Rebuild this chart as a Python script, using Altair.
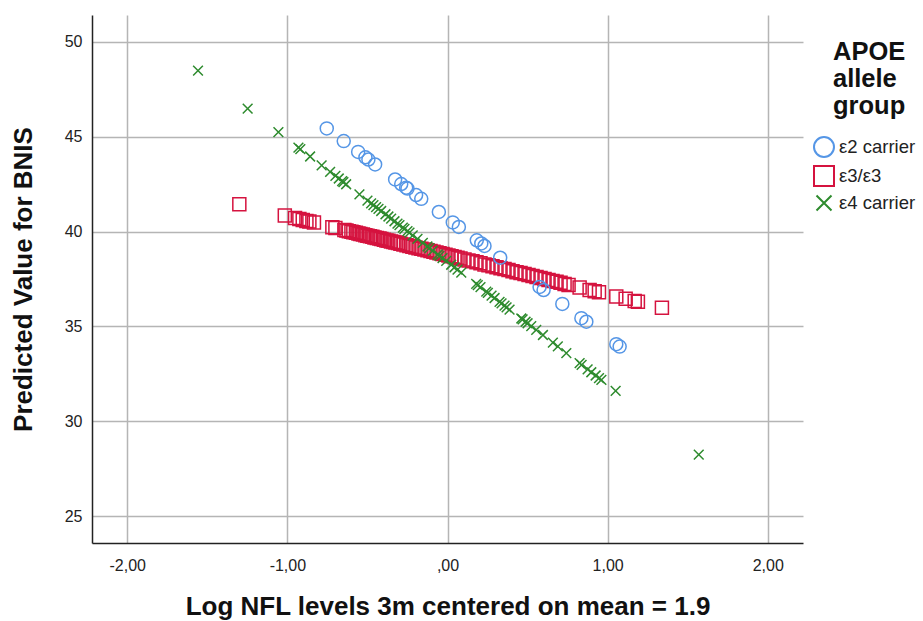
import altair as alt
import pandas as pd

# APOE groups, in legend order
groups = ["ε2 carrier", "ε3/ε3", "ε4 carrier"]
group_colors = ["#5596e6", "#d5133f", "#2e8b2e"]
x_mark = "M-0.75,-0.75L0.75,0.75M-0.75,0.75L0.75,-0.75"
group_shapes = ["circle", "square", x_mark]

# ε2 carriers: centered log NFL and predicted BNIS
e2_x = [-0.754, -0.648, -0.558, -0.5125, -0.494, -0.452, -0.327, -0.289, -0.258,
        -0.25, -0.196, -0.164, -0.054, 0.033, 0.071, 0.183, 0.211, 0.231, 0.329,
        0.575, 0.60, 0.717, 0.836, 0.867, 1.054, 1.075]
e2_y = [45.43, 44.76, 44.19, 43.91, 43.79, 43.53, 42.74, 42.50, 42.31,
        42.26, 41.92, 41.72, 41.03, 40.48, 40.24, 39.54, 39.37, 39.24, 38.62,
        37.08, 36.92, 36.19, 35.44, 35.25, 34.07, 33.94]

# ε3/ε3
e3_x = [-1.300, -1.016, -0.952, -0.925, -0.904, -0.881, -0.8625, -0.834, -0.719, -0.700,
        -0.644, -0.631, -0.616, -0.600, -0.588, -0.572, -0.556, -0.544, -0.528, -0.513,
        -0.500, -0.484, -0.469, -0.456, -0.441, -0.425, -0.413, -0.397, -0.381, -0.369,
        -0.353, -0.338, -0.325, -0.309, -0.294, -0.275, -0.256, -0.238, -0.219, -0.200,
        -0.181, -0.163, -0.144, -0.125, -0.106, -0.0875, -0.069, -0.050, -0.031, -0.0125,
        0.006, 0.025, 0.044, 0.0625, 0.081, 0.106, 0.131, 0.156, 0.181, 0.206,
        0.231, 0.256, 0.281, 0.306, 0.331, 0.356, 0.381, 0.406, 0.431, 0.456,
        0.481, 0.506, 0.531, 0.556, 0.581, 0.606, 0.631, 0.656, 0.681, 0.706,
        0.731, 0.756, 0.825, 0.8875, 0.919, 0.946, 1.054, 1.1125, 1.169, 1.189, 1.339]
e3_y = [41.43, 40.84, 40.71, 40.66, 40.61, 40.56, 40.53, 40.47, 40.23, 40.19,
        40.08, 40.05, 40.02, 39.99, 39.96, 39.93, 39.90, 39.87, 39.84, 39.81,
        39.78, 39.75, 39.72, 39.69, 39.66, 39.63, 39.60, 39.57, 39.53, 39.51,
        39.48, 39.45, 39.42, 39.39, 39.36, 39.32, 39.28, 39.24, 39.20, 39.16,
        39.12, 39.09, 39.05, 39.01, 38.97, 38.93, 38.89, 38.85, 38.81, 38.78,
        38.74, 38.70, 38.66, 38.62, 38.58, 38.53, 38.48, 38.43, 38.38, 38.33,
        38.27, 38.22, 38.17, 38.12, 38.07, 38.02, 37.97, 37.91, 37.86, 37.81,
        37.76, 37.71, 37.66, 37.60, 37.55, 37.50, 37.45, 37.40, 37.35, 37.30,
        37.24, 37.19, 37.05, 36.92, 36.86, 36.80, 36.58, 36.46, 36.34, 36.30, 35.99]

# ε4 carriers
e4_x = [-1.558, -1.248, -1.056, -0.931, -0.919, -0.858, -0.786, -0.733, -0.700, -0.679,
        -0.658, -0.650, -0.633, -0.550, -0.500, -0.477, -0.4625, -0.446, -0.431, -0.414,
        -0.3875, -0.369, -0.352, -0.331, -0.3125, -0.300, -0.279, -0.269, -0.250, -0.2375,
        -0.217, -0.1875, -0.154, -0.125, -0.1125, -0.092, -0.061, -0.050, -0.031, -0.008,
        0.023, 0.044, 0.0625, 0.086, 0.179, 0.189, 0.206, 0.242, 0.252, 0.275,
        0.294, 0.325, 0.3375, 0.356, 0.369, 0.3875, 0.461, 0.469, 0.4875, 0.500,
        0.523, 0.554, 0.596, 0.658, 0.689, 0.742, 0.825, 0.8375, 0.875, 0.898,
        0.925, 0.946, 0.961, 1.050, 1.569]
e4_y = [48.47, 46.47, 45.23, 44.42, 44.34, 43.95, 43.48, 43.14, 42.93, 42.79,
        42.65, 42.60, 42.49, 41.96, 41.63, 41.48, 41.39, 41.28, 41.19, 41.08,
        40.91, 40.79, 40.68, 40.54, 40.42, 40.34, 40.20, 40.14, 40.02, 39.94,
        39.80, 39.61, 39.40, 39.21, 39.13, 38.99, 38.79, 38.72, 38.60, 38.45,
        38.25, 38.12, 37.99, 37.84, 37.24, 37.18, 37.07, 36.84, 36.77, 36.62,
        36.50, 36.30, 36.22, 36.10, 36.01, 35.89, 35.42, 35.37, 35.25, 35.17,
        35.02, 34.82, 34.55, 34.15, 33.95, 33.60, 33.07, 32.98, 32.74, 32.59,
        32.42, 32.28, 32.19, 31.61, 28.25]

x_ticks = [-2, -1, 0, 1, 2]
y_ticks = [25, 30, 35, 40, 45, 50]
legend_title = ["APOE", "allele", "group"]

frames = [
    pd.DataFrame({"nfl": e3_x, "bnis": e3_y, "group": groups[1]}),
    pd.DataFrame({"nfl": e2_x, "bnis": e2_y, "group": groups[0]}),
    pd.DataFrame({"nfl": e4_x, "bnis": e4_y, "group": groups[2]}),
]
df = pd.concat(frames, ignore_index=True)

FONT = "Liberation Sans"

legend = alt.Legend(
    title=None, orient="none", legendX=721, legendY=121,
    symbolSize=400, symbolStrokeWidth=2, labelFontSize=18.5, labelFont=FONT,
    labelColor="#222222", labelOffset=4, rowPadding=1, labelLimit=300,
)

points = alt.Chart(df).mark_point(
    filled=False, size=169, strokeWidth=1.5, opacity=1
).encode(
    x=alt.X("nfl:Q",
            scale=alt.Scale(domain=[-2.22, 2.22], nice=False, zero=False),
            axis=alt.Axis(
                values=x_ticks,
                labelExpr="datum.value == 0 ? ',00' : (datum.value < 0 ? '-' : '') + replace(format(abs(datum.value), '.2f'), '.', ',')",
                title="Log NFL levels 3m centered on mean = 1.9",
                labelPadding=14, titlePadding=20)),
    y=alt.Y("bnis:Q",
            scale=alt.Scale(domain=[23.6, 51.4], nice=False, zero=False),
            axis=alt.Axis(values=y_ticks, title="Predicted Value for BNIS",
                          labelPadding=10, titlePadding=28)),
    color=alt.Color("group:N", scale=alt.Scale(domain=groups, range=group_colors), legend=legend),
    shape=alt.Shape("group:N", scale=alt.Scale(domain=groups, range=group_shapes), legend=legend),
)

title_text = alt.Chart(pd.DataFrame({"t": [0]})).mark_text(
    text=legend_title, font=FONT, fontSize=25.5, fontWeight="bold",
    align="left", baseline="alphabetic", lineHeight=27, color="#111111"
).encode(x=alt.value(741), y=alt.value(45))

chart = alt.layer(points, title_text).properties(
    width=711, height=528,
    autosize=alt.AutoSizeParams(type="none"),
    padding={"left": 92, "top": 15, "right": 120, "bottom": 78},
).configure_view(stroke=None).configure_axis(
    grid=True, gridColor="#b5b5b5", gridWidth=1.5,
    domainColor="#222222", domainWidth=1.5, ticks=False,
    labelFont=FONT, labelFontSize=16, labelColor="#222222",
    titleFont=FONT, titleFontSize=26, titleFontWeight="bold", titleColor="#111111",
)

chart.save("out.html", embed_options={"renderer": "svg", "actions": False})
